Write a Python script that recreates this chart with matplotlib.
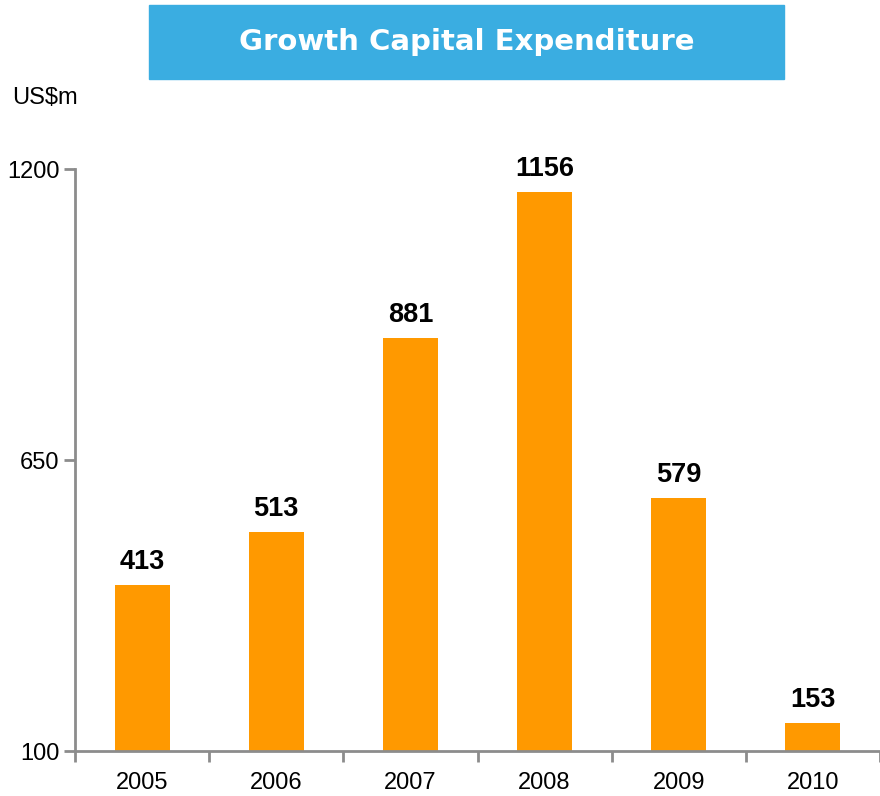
import numpy as np
import matplotlib.pyplot as plt
from matplotlib.patches import Rectangle

# data
years = ['2005', '2006', '2007', '2008', '2009', '2010']
capex = [413, 513, 881, 1156, 579, 153]
y_ticks = [100, 650, 1200]

bar_color = '#FF9900'
axis_color = '#8C8C8C'
title_color = '#3AADE1'
num_font = 'Liberation Sans'

fig = plt.figure(figsize=(8.8, 7.96), dpi=100)
ax = fig.add_axes([75 / 880, 1 - 751 / 796, 1 - 75 / 880, (751 - 169) / 796])

x = np.arange(len(years))
ax.bar(x, np.array(capex) - 100, width=0.41, bottom=100, color=bar_color, zorder=2)

for xi, v in zip(x, capex):
    ax.annotate(str(v), (xi, v), xytext=(0, 16), textcoords='offset pixels',
                ha='center', va='baseline', fontsize=19.5, fontweight='bold',
                family=num_font, color='black')

ax.set_ylim(100, 1200)
ax.set_xlim(-0.5, 5.43)
ax.set_yticks(y_ticks)
ax.set_yticklabels([str(t) for t in y_ticks], fontsize=17, family=num_font)
ax.set_xticks(x)
ax.set_xticklabels(years, fontsize=17, family=num_font)
ax.tick_params(axis='x', which='major', length=0, pad=15)
ax.set_xticks(np.arange(-0.5, 5.6, 1), minor=True)
ax.tick_params(axis='x', which='minor', length=8, width=2, color=axis_color)
ax.tick_params(axis='y', length=8, width=2, color=axis_color, pad=3)

for s in ['top', 'right']:
    ax.spines[s].set_visible(False)
for s in ['left', 'bottom']:
    ax.spines[s].set_color(axis_color)
    ax.spines[s].set_linewidth(2)
ax.spines['bottom'].set_zorder(3)

fig.text(12 / 880, 1 - 98 / 796, 'US$m', fontsize=17, family=num_font,
         ha='left', va='center')

# title box
fig.patches.append(Rectangle((149 / 880, 1 - 79 / 796), 635 / 880, 74 / 796,
                             transform=fig.transFigure, color=title_color, zorder=0))
fig.text((149 + 784) / 2 / 880, 1 - 42 / 796, 'Growth Capital Expenditure',
         fontsize=21, fontweight='bold', color='white', ha='center', va='center')

fig.savefig('out.png', dpi=100)
